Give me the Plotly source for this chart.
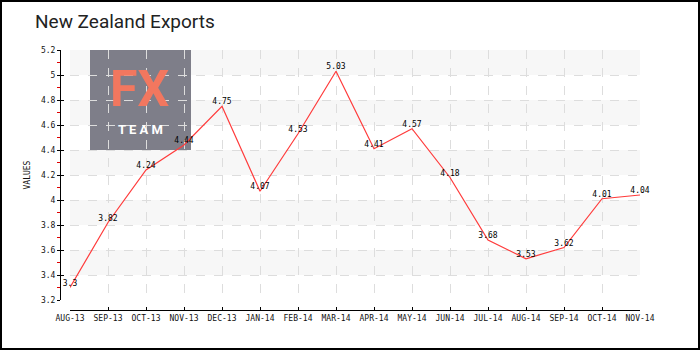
import plotly.graph_objects as go

months = ["AUG-13", "SEP-13", "OCT-13", "NOV-13", "DEC-13", "JAN-14", "FEB-14", "MAR-14",
          "APR-14", "MAY-14", "JUN-14", "JUL-14", "AUG-14", "SEP-14", "OCT-14", "NOV-14"]
exports = [3.3, 3.82, 4.24, 4.44, 4.75, 4.07, 4.53, 5.03, 4.41, 4.57, 4.18, 3.68, 3.53, 3.62, 4.01, 4.04]
y_ticks = [3.2, 3.4, 3.6, 3.8, 4.0, 4.2, 4.4, 4.6, 4.8, 5.0, 5.2]
y_tick_text = ["3.2", "3.4", "3.6", "3.8", "4", "4.2", "4.4", "4.6", "4.8", "5", "5.2"]

W, H = 700, 350
ML, MR, MT, MB = 60, 60, 50, 40
PW, PH = W - ML - MR, H - MT - MB
OFF = 10  # gap between axis lines and the plotting area
xdom0 = OFF / PW
ydom0 = OFF / PH

tick_font = dict(family="DejaVu Sans Mono, monospace", size=8, color="#111")

fig = go.Figure()
fig.add_trace(go.Scatter(
    x=list(range(len(months))), y=exports, mode="lines+text",
    line=dict(color="#ff3b3b", width=1.2),
    text=[f"{v:g}" for v in exports], textposition="top center",
    textfont=dict(family="DejaVu Sans Mono, monospace", size=8, color="#000"),
    hoverinfo="skip", showlegend=False, cliponaxis=False,
))

shapes = []
# alternating light bands
for i in range(len(y_ticks) - 1):
    if i % 2 == 1:
        shapes.append(dict(type="rect", xref="paper", yref="y", x0=xdom0, x1=1,
                           y0=y_ticks[i], y1=y_ticks[i + 1], fillcolor="#f7f7f7",
                           line=dict(width=0), layer="below"))
# logo block
shapes.append(dict(type="rect", xref="paper", yref="paper",
                   x0=(90 - ML) / PW, x1=(191 - ML) / PW,
                   y0=(H - MB - 150) / PH, y1=(H - MB - 50) / PH,
                   fillcolor="#747480", opacity=0.93, line=dict(width=0), layer="between"))
# outer frame
shapes.append(dict(type="rect", xref="paper", yref="paper",
                   x0=(1 - ML) / PW, x1=(W - 1 - ML) / PW,
                   y0=(1 - MB) / PH, y1=(H - 1 - MB) / PH,
                   line=dict(color="#000", width=2), fillcolor="rgba(0,0,0,0)", layer="above"))

annotations = [
    dict(text="New Zealand Exports", xref="paper", yref="paper",
         x=(33 - ML) / PW, y=(H - MB - 22) / PH, xanchor="left", yanchor="middle",
         showarrow=False, font=dict(family="Roboto, sans-serif", size=19, color="#222")),
    dict(text="<b>FX</b>", xref="paper", yref="paper",
         x=(139 - ML) / PW, y=(H - MB - 120) / PH, xanchor="center", yanchor="bottom",
         showarrow=False, font=dict(family="Roboto, sans-serif", size=50, color="#f2775f")),
    dict(text="<b>T E A M</b>", xref="paper", yref="paper",
         x=(140 - ML) / PW, y=(H - MB - 120) / PH, xanchor="center", yanchor="top",
         showarrow=False, font=dict(family="Roboto, sans-serif", size=13, color="#ffffff")),
]

fig.update_layout(
    width=W, height=H, margin=dict(l=ML, r=MR, t=MT, b=MB),
    paper_bgcolor="#ffffff", plot_bgcolor="rgba(0,0,0,0)",
    shapes=shapes, annotations=annotations,
    xaxis=dict(domain=[xdom0, 1], anchor="free", position=0, range=[0, len(months) - 1],
               tickvals=list(range(len(months))), ticktext=months, tickfont=tick_font,
               showline=True, linecolor="#000", linewidth=1,
               ticks="inside", ticklen=3, tickcolor="#000",
               showgrid=True, gridcolor="#dddddd", griddash="dash", gridwidth=1,
               zeroline=False, fixedrange=True),
    yaxis=dict(domain=[ydom0, 1], anchor="free", position=0, range=[3.2, 5.2],
               tickvals=y_ticks, ticktext=y_tick_text, tickfont=tick_font,
               showline=True, linecolor="#000", linewidth=1,
               ticks="outside", ticklen=3, tickcolor="#000",
               minor=dict(tickvals=[v + 0.1 for v in y_ticks[:-1]], ticks="outside",
                          ticklen=3, tickcolor="#e00000", showgrid=False),
               showgrid=True, gridcolor="#dddddd", griddash="dash", gridwidth=1,
               zeroline=False, fixedrange=True,
               title=dict(text="VALUES", font=tick_font, standoff=8)),
    yaxis2=dict(domain=[ydom0, 1], anchor="free", position=0, overlaying="y",
                range=[3.2, 5.2], tickvals=y_ticks, showticklabels=False,
                ticks="inside", ticklen=3, tickcolor="#000", showgrid=False,
                zeroline=False, showline=False, fixedrange=True),
)
# invisible trace so the inner tick axis is drawn
fig.add_trace(go.Scatter(x=[0], y=[3.2], yaxis="y2", mode="markers",
                         marker=dict(opacity=0), hoverinfo="skip", showlegend=False))

fig.write_html("out.html")
